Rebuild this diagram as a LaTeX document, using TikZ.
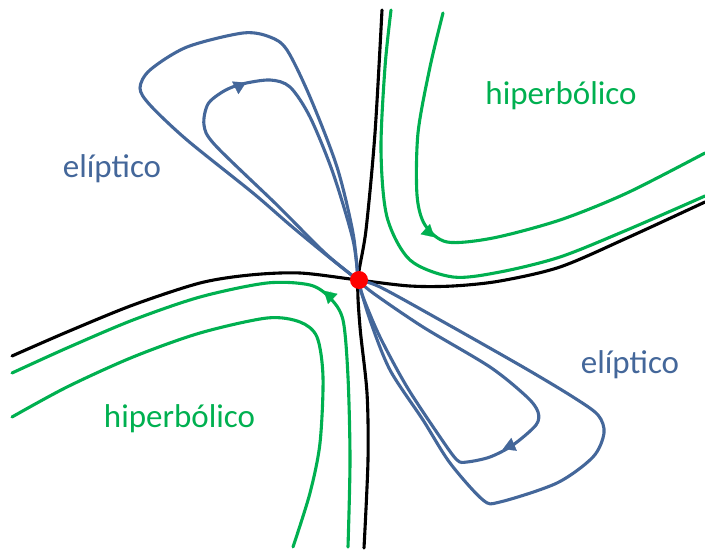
\documentclass[tikz,border=0pt]{standalone}
\usepackage{fontspec}
\setmainfont{Carlito}
\usetikzlibrary{arrows.meta}
\definecolor{ellblue}{HTML}{44679A}
\definecolor{hypgreen}{HTML}{00B050}
\tikzset{
  sepline/.style={draw=black, line width=3.1pt},
  hypline/.style={draw=hypgreen, line width=3.1pt},
  ellline/.style={draw=ellblue, line width=3.1pt},
  hyptip/.style={draw=hypgreen, line width=0.2pt, -{Triangle[length=12pt,width=14pt]}},
  elltip/.style={draw=ellblue, line width=0.2pt, -{Triangle[length=12pt,width=14pt]}},
  lbl/.style={font=\fontsize{33}{40}\selectfont, anchor=base},
}
\begin{document}
\begin{tikzpicture}[x=1pt, y=-1pt, line cap=round, line join=round]
\useasboundingbox (0,0) rectangle (705,551);

% separatrices through the critical point
\draw[sepline] plot[smooth] coordinates {(382,10) (375,133) (366,230) (358,280) (360,327) (367,393) (368,460) (364,548)};
\draw[sepline] plot[smooth] coordinates {(12,356) (67,332) (133,305) (200,283) (250,275) (300,273) (358,280) (410,286) (453,286) (500,281) (560,267) (627,238) (705,202)};

% hyperbolic sector, upper right
\draw[hypline] plot[smooth] coordinates {(391,10) (385,67) (381,150) (387,217) (410,260) (453,277) (500,272) (560,257) (627,230) (705,196)};
\draw[hypline] plot[smooth] coordinates {(443,13) (430,67) (418,133) (417,195) (425,225) (447,242) (493,238) (560,220) (627,193) (705,153)};
\draw[hyptip] (427.5,235.5) -- (430,224);

% hyperbolic sector, lower left
\draw[hypline] plot[smooth] coordinates {(12,373) (67,348) (133,320) (200,297) (267,283) (310,285) (330,298) (343,320) (348,377) (350,460) (348,547)};
\draw[hypline] plot[smooth] coordinates {(12,417) (67,387) (133,357) (200,333) (267,318) (300,322) (317,337) (323,377) (320,443) (310,493) (293,547)};
\draw[hyptip] (331,291) -- (328,304);

% elliptic sector, upper left
\draw[ellline] plot[smooth] coordinates {(358,280) (330,258) (290,225) (253,193) (187,140) (150,105) (140,88) (150,70) (187,47) (243,33) (270,37) (287,50) (310,97) (337,167) (353,233) (358,280)};
\draw[ellline] plot[smooth] coordinates {(358,280) (325,253) (277,205) (215,145) (204,125) (208,104) (224,91) (242,84) (270,80) (290,87) (310,117) (333,173) (353,240) (358,280)};
\draw[elltip] (239,86) -- (246,82.5);

% elliptic sector, lower right
\draw[ellline] plot[smooth] coordinates {(358,280) (380,287) (440,320) (523,367) (573,397) (598,415) (604,433) (593,457) (557,483) (500,502) (483,500) (450,463) (423,420) (390,370) (370,320) (358,280)};
\draw[ellline] plot[smooth] coordinates {(358,280) (373,293) (423,327) (490,367) (527,397) (538,412) (536,425) (513,445) (490,457) (467,462) (457,460) (440,437) (407,387) (380,337) (363,297) (358,280)};
\draw[elltip] (516,443.5) -- (503,449);

% critical point
\node[circle, fill=red, inner sep=0pt, minimum size=18pt] (p) at (359,280) {};

% sector labels
\node[lbl, text=hypgreen] (hypUR) at (561,105) {hiperbólico};
\node[lbl, text=hypgreen] (hypLL) at (179.5,427) {hiperbólico};
\node[lbl, text=ellblue] (ellUL) at (112,177) {elíptico};
\node[lbl, text=ellblue] (ellLR) at (630,373) {elíptico};
\end{tikzpicture}
\end{document}
